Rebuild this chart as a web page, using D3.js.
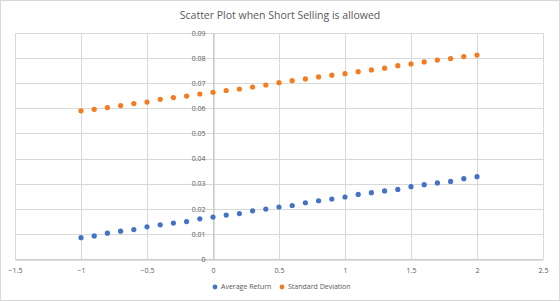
<!DOCTYPE html>
<html>
<head>
<meta charset="utf-8">
<script src="https://cdn.jsdelivr.net/npm/d3@7"></script>
<style>
  html, body { margin: 0; padding: 0; background: #fff; }
  text { font-family: "Open Sans", "Liberation Sans", sans-serif; fill: #595959; }
</style>
</head>
<body>
<script>
// Chart data
const weights = [-1, -0.9, -0.8, -0.7, -0.6, -0.5, -0.4, -0.3, -0.2, -0.1, 0,
  0.1, 0.2, 0.3, 0.4, 0.5, 0.6, 0.7, 0.8, 0.9, 1, 1.1, 1.2, 1.3, 1.4, 1.5,
  1.6, 1.7, 1.8, 1.9, 2];
const averageReturn = [0.0085, 0.0092, 0.0103, 0.0111, 0.0117, 0.0128, 0.0136,
  0.0143, 0.0149, 0.0160, 0.0167, 0.0175, 0.0181, 0.0192, 0.0199, 0.0207,
  0.0213, 0.0224, 0.0232, 0.0239, 0.0247, 0.0257, 0.0264, 0.0271, 0.0277,
  0.0288, 0.0296, 0.0303, 0.0309, 0.0320, 0.0328];
const standardDeviation = [0.0590, 0.0596, 0.0603, 0.0611, 0.0619, 0.0625,
  0.0636, 0.0643, 0.0649, 0.0657, 0.0664, 0.0671, 0.0677, 0.0685, 0.0693,
  0.0702, 0.0710, 0.0717, 0.0725, 0.0732, 0.0738, 0.0746, 0.0753, 0.0760,
  0.0770, 0.0777, 0.0785, 0.0792, 0.0798, 0.0806, 0.0812];
const xTicks = [-1.5, -1, -0.5, 0, 0.5, 1, 1.5, 2, 2.5];
const yTicks = [0, 0.01, 0.02, 0.03, 0.04, 0.05, 0.06, 0.07, 0.08, 0.09];
const seriesNames = ['Average Return', 'Standard Deviation'];
const seriesColors = ['#4472C4', '#F47B20'];
const chartTitle = 'Scatter Plot when Short Selling is allowed';

const width = 560, height = 302;

// SVG container
const svg = d3.select('body')
  .append('svg')
  .attr('width', width)
  .attr('height', height);

// chart border
svg.append('rect')
  .attr('x', 0.5).attr('y', 0.5)
  .attr('width', width - 1).attr('height', height - 2)
  .attr('fill', '#fff')
  .attr('stroke', '#d9d9d9');

// scales
const xScale = d3.scaleLinear().domain([-1.5, 2.5]).range([15, 543]);
const yScale = d3.scaleLinear().domain([0, 0.09]).range([259, 33]);

// gridlines
svg.append('g')
  .selectAll('line')
  .data(yTicks)
  .enter()
  .append('line')
  .attr('x1', xScale(-1.5)).attr('x2', xScale(2.5))
  .attr('y1', d => Math.round(yScale(d)) + 0.5)
  .attr('y2', d => Math.round(yScale(d)) + 0.5)
  .attr('stroke', '#d9d9d9');

svg.append('g')
  .selectAll('line')
  .data(xTicks)
  .enter()
  .append('line')
  .attr('x1', d => Math.round(xScale(d)) + 0.5)
  .attr('x2', d => Math.round(xScale(d)) + 0.5)
  .attr('y1', yScale(0.09)).attr('y2', yScale(0))
  .attr('stroke', '#d9d9d9');

// axes
const xAxis = d3.axisBottom(xScale)
  .tickValues(xTicks)
  .tickSize(0)
  .tickPadding(9)
  .tickFormat(d3.format('~g'));

const yAxis = d3.axisLeft(yScale)
  .tickValues(yTicks)
  .tickSize(0)
  .tickPadding(8)
  .tickFormat(d => d === 0 ? '0' : d3.format('.2f')(d));

const gx = svg.append('g')
  .attr('transform', `translate(0, ${Math.round(yScale(0)) + 0.5})`)
  .call(xAxis);
gx.select('.domain').attr('stroke', '#bfbfbf');

const gy = svg.append('g')
  .attr('transform', `translate(${Math.round(xScale(0)) + 0.5}, 0)`)
  .call(yAxis);
gy.select('.domain').attr('stroke', '#bfbfbf');

svg.selectAll('.tick text')
  .style('font-size', '7px')
  .attr('fill', '#595959');

// data points
[averageReturn, standardDeviation].forEach((values, i) => {
  svg.append('g')
    .selectAll('circle')
    .data(values)
    .enter()
    .append('circle')
    .attr('cx', (d, j) => xScale(weights[j]))
    .attr('cy', d => yScale(d))
    .attr('r', 2.6)
    .style('fill', seriesColors[i]);
});

// title
svg.append('text')
  .attr('x', width / 2)
  .attr('y', 19)
  .attr('text-anchor', 'middle')
  .style('font-size', '10.5px')
  .text(chartTitle);

// legend
const legendX = [215, 282];
const legend = svg.append('g')
  .selectAll('g')
  .data(seriesNames)
  .enter()
  .append('g')
  .attr('transform', (d, i) => `translate(${legendX[i]}, 287)`);

legend.append('circle')
  .attr('r', 2.4)
  .style('fill', (d, i) => seriesColors[i]);

legend.append('text')
  .attr('x', 6)
  .attr('dy', '0.35em')
  .style('font-size', '7px')
  .text(d => d);
</script>
</body>
</html>
